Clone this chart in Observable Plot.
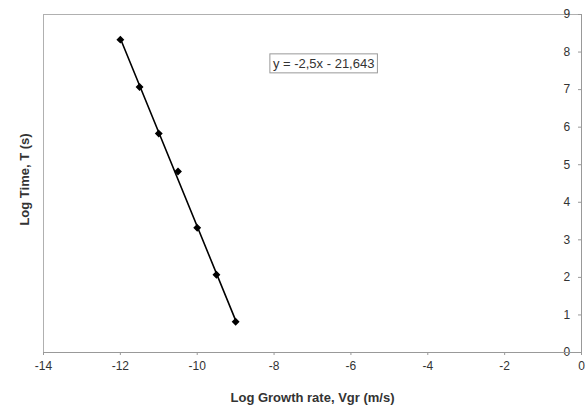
<!DOCTYPE html>
<html>
<head>
<meta charset="utf-8">
<script src="https://cdn.jsdelivr.net/npm/d3@7"></script>
<script src="https://cdn.jsdelivr.net/npm/@observablehq/plot@0.6"></script>
<style>
  html, body { margin: 0; padding: 0; background: #fff; }
  #chart { width: 586px; height: 410px; }
</style>
</head>
<body>
<div id="chart"></div>
<script>
const logGrowthRate = [-12, -11.5, -11, -10.5, -10, -9.5, -9];
const logTime = [8.33, 7.07, 5.83, 4.82, 3.32, 2.07, 0.82];
const xTicks = [-14, -12, -10, -8, -6, -4, -2, 0];
const yTicks = [0, 1, 2, 3, 4, 5, 6, 7, 8, 9];
const equationText = "y = -2,5x - 21,643";
const equationPos = {x: -6.71, y: 7.69};
const xTitle = "Log Growth rate, Vgr (m/s)";
const yTitle = "Log Time, T (s)";

const data = logGrowthRate.map((x, i) => ({x, y: logTime[i]}));
const font = "'Liberation Sans', Arial, sans-serif";

const chart = Plot.plot({
  width: 586,
  height: 410,
  marginLeft: 43,
  marginRight: 5,
  marginTop: 14,
  marginBottom: 58,
  style: {fontFamily: font, fontSize: "12px", color: "#333", background: "#fff"},
  x: {domain: [-14, 0]},
  y: {domain: [0, 9]},
  marks: [
    Plot.frame({stroke: "#b0b0b0"}),
    Plot.axisX({ticks: xTicks, tickSize: 3, tickPadding: 6, stroke: "#999", fill: "#333", fontSize: 12, label: null, tickFormat: d => String(d)}),
    Plot.axisY({anchor: "right", ticks: yTicks, tickSize: -4, stroke: "#999", text: null, label: null}),
    Plot.axisY({anchor: "right", ticks: yTicks, tickSize: 0, tickPadding: -18, fill: "#333", fontSize: 12, label: null, tickFormat: d => String(d)}),
    Plot.ruleY([0], {stroke: "#999"}),
    Plot.ruleX([0], {stroke: "#999"}),
    Plot.linearRegressionY(data, {x: "x", y: "y", stroke: "#000", strokeWidth: 1.6, ci: 0}),
    Plot.dot(data, {x: "x", y: "y", symbol: "diamond2", r: 2.6, fill: "#000", stroke: "#000"}),
    Plot.text([equationPos], {x: "x", y: "y", text: () => equationText, fontSize: 13, fill: "#333", className: "eqn"}),
    Plot.text([xTitle], {frameAnchor: "bottom", dy: 49, fontWeight: "bold", fontSize: 13, fill: "#333"}),
    Plot.text([yTitle], {frameAnchor: "left", textAnchor: "middle", dx: -19, dy: -4, rotate: -90, fontWeight: "bold", fontSize: 13, fill: "#333"})
  ]
});
document.getElementById("chart").appendChild(chart);

// Box around the equation label
const eq = chart.querySelector(".eqn text");
if (eq) {
  const bb = eq.getBBox();
  const rect = document.createElementNS("http://www.w3.org/2000/svg", "rect");
  rect.setAttribute("x", bb.x - 3);
  rect.setAttribute("y", bb.y - 2);
  rect.setAttribute("width", bb.width + 6);
  rect.setAttribute("height", bb.height + 4);
  rect.setAttribute("fill", "#fff");
  rect.setAttribute("stroke", "#999");
  const t = eq.getAttribute("transform");
  if (t) rect.setAttribute("transform", t);
  eq.parentNode.insertBefore(rect, eq);
}
</script>
</body>
</html>
